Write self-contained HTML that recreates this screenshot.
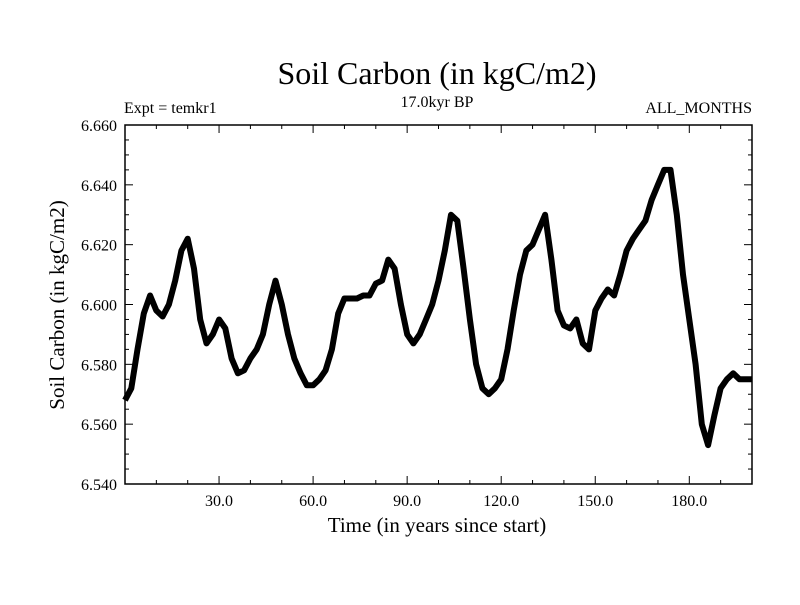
<!DOCTYPE html>
<html><head><meta charset="utf-8"><style>
body{margin:0;background:#fff}
svg text{font-family:"Liberation Serif",serif;fill:#000}
</style></head><body>
<svg width="800" height="600">
<text x="437" y="84" font-size="32" text-anchor="middle">Soil Carbon (in kgC/m2)</text>
<text x="124" y="113" font-size="16">Expt = temkr1</text>
<text x="437" y="107" font-size="16" text-anchor="middle">17.0kyr BP</text>
<text x="752" y="113" font-size="16" text-anchor="end">ALL_MONTHS</text>
<text x="437" y="532" font-size="21" text-anchor="middle">Time (in years since start)</text>
<text transform="translate(64,305) rotate(-90)" font-size="21" text-anchor="middle">Soil Carbon (in kgC/m2)</text>
<g id="axes"></g>
<g id="marks"></g>
<rect x="125" y="125" width="627" height="359" fill="none" stroke="#000" stroke-width="1.5"/>
</svg>
<script>
const years=[];for(let i=0;i<=100;i++)years.push(i*2);
const values=[6.568,6.572,6.585,6.597,6.603,6.598,6.596,6.600,6.608,6.618,6.622,6.612,6.595,6.587,6.590,6.595,6.592,6.582,6.577,6.578,6.582,6.585,6.590,6.600,6.608,6.600,6.590,6.582,6.577,6.573,6.573,6.575,6.578,6.585,6.597,6.602,6.602,6.602,6.603,6.603,6.607,6.608,6.615,6.612,6.600,6.590,6.587,6.590,6.595,6.600,6.608,6.618,6.630,6.628,6.612,6.595,6.580,6.572,6.570,6.572,6.575,6.585,6.598,6.610,6.618,6.620,6.625,6.630,6.615,6.598,6.593,6.592,6.595,6.587,6.585,6.598,6.602,6.605,6.603,6.610,6.618,6.622,6.625,6.628,6.635,6.640,6.645,6.645,6.630,6.610,6.595,6.580,6.560,6.553,6.563,6.572,6.575,6.577,6.575,6.575,6.575];
const xTicks=[30,60,90,120,150,180];
const xTickLabels=["30.0","60.0","90.0","120.0","150.0","180.0"];
const yTicks=[6.54,6.56,6.58,6.60,6.62,6.64,6.66];
const yTickLabels=["6.540","6.560","6.580","6.600","6.620","6.640","6.660"];
const X0=125,X1=752,Y0=484,Y1=125;
const sx=v=>X0+(v-0)/(200-0)*(X1-X0);
const sy=v=>Y0-(v-6.54)/(0.12)*(Y0-Y1);
const NS="http://www.w3.org/2000/svg";
const ax=document.getElementById('axes'),mk=document.getElementById('marks');
function mkEl(t,a){const e=document.createElementNS(NS,t);for(const k in a)e.setAttribute(k,a[k]);return e;}
for(let v=10;v<200;v+=10){const major=v%30===0;
 const l=mkEl('line',{x1:sx(v),x2:sx(v),y1:Y0,y2:Y0-(major?8:4),stroke:'#000'});
 
 
 ax.appendChild(l);
 const l2=mkEl('line',{x1:sx(v),x2:sx(v),y1:Y1,y2:Y1+(major?8:4),stroke:'#000'});
 
 
 ax.appendChild(l2);}
xTicks.forEach((v,i)=>{const t=mkEl('text',{x:sx(v),y:Y0+22,'font-size':16,'text-anchor':'middle'});t.textContent=xTickLabels[i];
 
 
 ax.appendChild(t);});
for(let v=6.54;v<=6.6601;v+=0.005){const major=Math.abs(Math.round(v*1000)%20)<1;
 const l=mkEl('line',{x1:X0,x2:X0+(major?8:4),y1:sy(v),y2:sy(v),stroke:'#000'});
 
 
 ax.appendChild(l);
 const l2=mkEl('line',{x1:X1,x2:X1-(major?8:4),y1:sy(v),y2:sy(v),stroke:'#000'});
 
 
 ax.appendChild(l2);}
yTicks.forEach((v,i)=>{const t=mkEl('text',{x:X0-8,y:sy(v)+6,'font-size':16,'text-anchor':'end'});t.textContent=yTickLabels[i];
 
 
 ax.appendChild(t);});
const pts=years.map((y,i)=>sx(y).toFixed(1)+','+sy(values[i]).toFixed(1)).join(' ');
const pl=mkEl('polyline',{points:pts,fill:'none',stroke:'#000','stroke-width':6,'stroke-linejoin':'round'});


mk.appendChild(pl);
</script>
</body></html>
